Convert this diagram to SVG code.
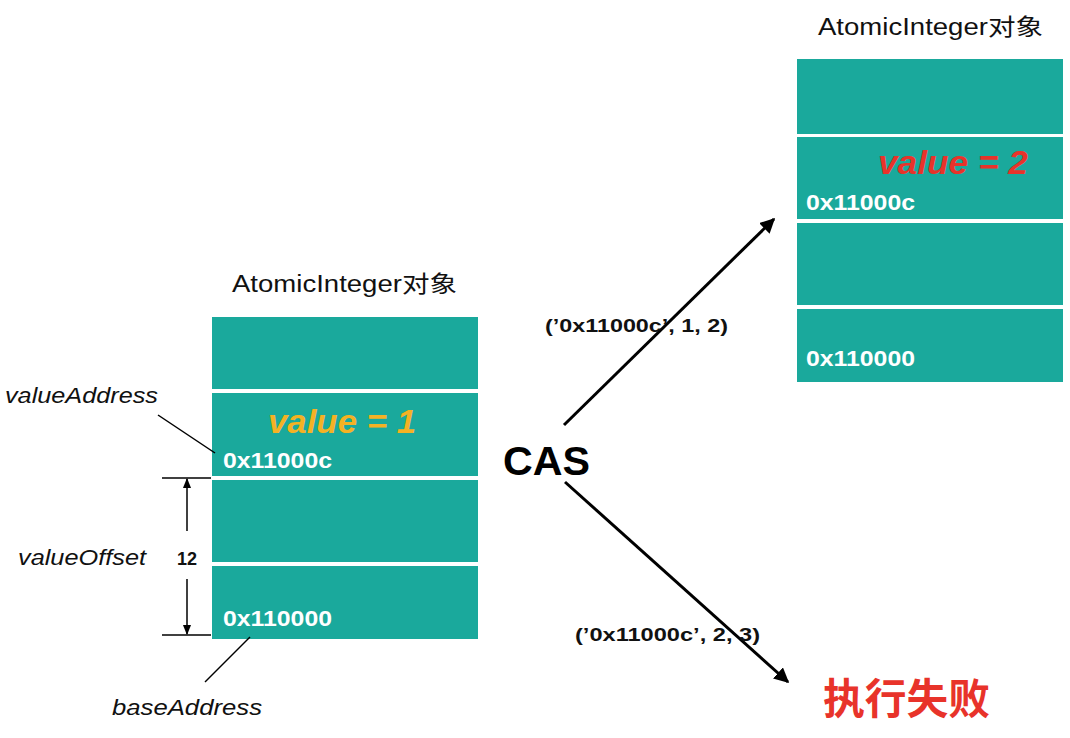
<svg xmlns="http://www.w3.org/2000/svg" width="1070" height="738" viewBox="0 0 1070 738">
<defs>
<marker id="ah" viewBox="0 0 10 10" refX="9" refY="5" markerWidth="5" markerHeight="5" orient="auto-start-reverse" markerUnits="strokeWidth">
<path d="M0,0 L10,5 L0,10 z" fill="#000"/>
</marker>
<marker id="ahs" viewBox="0 0 10 10" refX="9" refY="5" markerWidth="7" markerHeight="7" orient="auto-start-reverse" markerUnits="strokeWidth">
<path d="M0,1 L10,5 L0,9 z" fill="#000"/>
</marker>
<style>
.cell{fill:#1AA99C;}
.t{font-family:"Liberation Sans","Noto Sans CJK SC",sans-serif;}
.title{font-size:23px;fill:#111;}
.addr{font-size:22px;font-weight:bold;fill:#fff;}
.val{font-size:33px;font-weight:bold;font-style:italic;}
.lab{font-size:22px;font-style:italic;fill:#111;}
.arg{font-size:19px;font-weight:bold;fill:#111;}
.ln{stroke:#000;stroke-width:1.5;fill:none;}
.arr{stroke:#000;stroke-width:3;fill:none;}
</style>
</defs>
<rect width="1070" height="738" fill="#fff"/>
<g id="left-object">
<text class="t title" x="232" y="292" textLength="225" lengthAdjust="spacingAndGlyphs">AtomicInteger对象</text>
<rect class="cell" x="212" y="317" width="266" height="72"/>
<rect class="cell" x="212" y="393" width="266" height="83"/>
<rect class="cell" x="212" y="480" width="266" height="82"/>
<rect class="cell" x="212" y="566" width="266" height="73"/>
<text class="t val" x="268" y="433" textLength="148" lengthAdjust="spacingAndGlyphs" fill="#F4B224">value = 1</text>
<text class="t addr" x="223" y="468" textLength="109" lengthAdjust="spacingAndGlyphs">0x11000c</text>
<text class="t addr" x="223" y="626" textLength="109" lengthAdjust="spacingAndGlyphs">0x110000</text>
</g>
<g id="right-object">
<text class="t title" x="818" y="35" textLength="225" lengthAdjust="spacingAndGlyphs">AtomicInteger对象</text>
<rect class="cell" x="797" y="59" width="266" height="75"/>
<rect class="cell" x="797" y="137" width="266" height="82"/>
<rect class="cell" x="797" y="223" width="266" height="82"/>
<rect class="cell" x="797" y="309" width="266" height="73"/>
<text class="t val" x="878" y="174" textLength="150" lengthAdjust="spacingAndGlyphs" fill="#E8332A">value = 2</text>
<text class="t addr" x="806" y="210" textLength="109" lengthAdjust="spacingAndGlyphs">0x11000c</text>
<text class="t addr" x="806" y="366" textLength="109" lengthAdjust="spacingAndGlyphs">0x110000</text>
</g>
<g id="labels">
<text class="t lab" x="5" y="403" textLength="153" lengthAdjust="spacingAndGlyphs">valueAddress</text>
<text class="t lab" x="18" y="565" textLength="128" lengthAdjust="spacingAndGlyphs">valueOffset</text>
<text class="t lab" x="112" y="715" textLength="150" lengthAdjust="spacingAndGlyphs">baseAddress</text>
<text class="t" x="187" y="565" text-anchor="middle" font-size="18" font-weight="bold" fill="#111">12</text>
</g>
<g id="cas">
<text class="t" x="503" y="475" font-size="41" font-weight="bold" fill="#000" textLength="87" lengthAdjust="spacingAndGlyphs">CAS</text>
</g>
<g id="fail">
<text class="t" x="823" y="714" font-size="42" font-weight="bold" fill="#E8332A" textLength="167" lengthAdjust="spacingAndGlyphs">执行失败</text>
</g>
<g id="connectors">
<line class="ln" x1="158" y1="415" x2="215" y2="453"/>
<line class="ln" x1="250" y1="637" x2="205" y2="682"/>
<line class="ln" x1="162" y1="478" x2="211" y2="478"/>
<line class="ln" x1="162" y1="635" x2="211" y2="635"/>
<line class="ln" x1="187" y1="531" x2="187" y2="479" marker-end="url(#ahs)"/>
<line class="ln" x1="187" y1="579" x2="187" y2="634" marker-end="url(#ahs)"/>
<line class="arr" x1="564" y1="425" x2="774" y2="219" marker-end="url(#ah)"/>
<line class="arr" x1="565" y1="482" x2="788" y2="682" marker-end="url(#ah)"/>
<text class="t arg" x="545" y="332" textLength="183" lengthAdjust="spacingAndGlyphs">(’0x11000c’, 1, 2)</text>
<text class="t arg" x="575" y="641" textLength="185" lengthAdjust="spacingAndGlyphs">(’0x11000c’, 2, 3)</text>
</g>
</svg>
